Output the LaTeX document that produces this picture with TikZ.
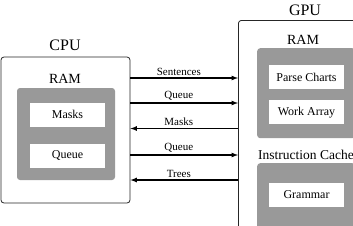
\documentclass[tikz,border=0pt]{standalone}
\usepackage{fontspec}
\setmainfont{Liberation Serif}
\usetikzlibrary{positioning}

\begin{document}
\begin{tikzpicture}[x=1pt, y=-1pt, >=latex,
        unit/.style={draw=black!85, line width=0.8pt, rounded corners=3pt, fill=white},
        mem/.style={fill=black!40, rounded corners=3pt},
        cell/.style={fill=white, minimum width=75pt, minimum height=24pt, font=\fontsize{12}{14}\selectfont},
        title/.style={font=\fontsize{16}{18}\selectfont},
        head/.style={font=\fontsize{14}{16}\selectfont},
        msg/.style={font=\fontsize{11}{13}\selectfont, above, pos=.45, inner sep=2pt}]
        \useasboundingbox (0,0) rectangle (353,225);
        \clip (0,0) rectangle (353,225);

        % cpu side
        \node[unit, minimum width=129pt, minimum height=146pt] (cpu) at (65.5,130) {};
        \node[title] (cputitle) at (65,45) {CPU};
        \node[mem, minimum width=98pt, minimum height=92pt] (cpuram) at (66,134) {};
        \node[head] (cpuramlbl) at (65,79) {RAM};
        \node[cell] (masks) at (67.5,114.5) {Masks};
        \node[cell] (queue) [below=17pt of masks] {Queue};

        % gpu side
        \node[unit, minimum width=132pt, minimum height=220pt, anchor=north west] (gpu) at (238,20) {};
        \node[title] (gputitle) at (305,10) {GPU};
        \node[mem, minimum width=98pt, minimum height=90pt, anchor=north west] (gpuram) at (257,48) {};
        \node[head] (gpuramlbl) at (303,40) {RAM};
        \node[cell] (charts) at (306.5,77) {Parse Charts};
        \node[cell] (work) [below=11pt of charts] {Work Array};
        \node[head, font=\fontsize{13.5}{16}\selectfont] (cachelbl) at (306,155) {Instruction Cache};
        \node[mem, minimum width=98pt, minimum height=70pt, anchor=north west] (cache) at (257,163) {};
        \node[cell] (grammar) at (306.5,194.5) {Grammar};

        \coordinate (m1) at (0,78);
        \coordinate (m2) at (0,103);
        \coordinate (m3) at (0,128.5);
        \coordinate (m4) at (0,155);
        \coordinate (m5) at (0,180);

        \path[->, line width=1.2pt]
        (cpu.east |- m1) edge node[msg] {Sentences} (gpu.west |- m1)
        (cpu.east |- m2) edge node[msg] {Queue} (gpu.west |- m2)
        (cpu.east |- m3) edge[<-] node[msg] {Masks} (gpu.west |- m3)
        (cpu.east |- m4) edge node[msg] {Queue} (gpu.west |- m4)
        (cpu.east |- m5) edge[<-] node[msg] {Trees} (gpu.west |- m5);

\end{tikzpicture}
\end{document}
